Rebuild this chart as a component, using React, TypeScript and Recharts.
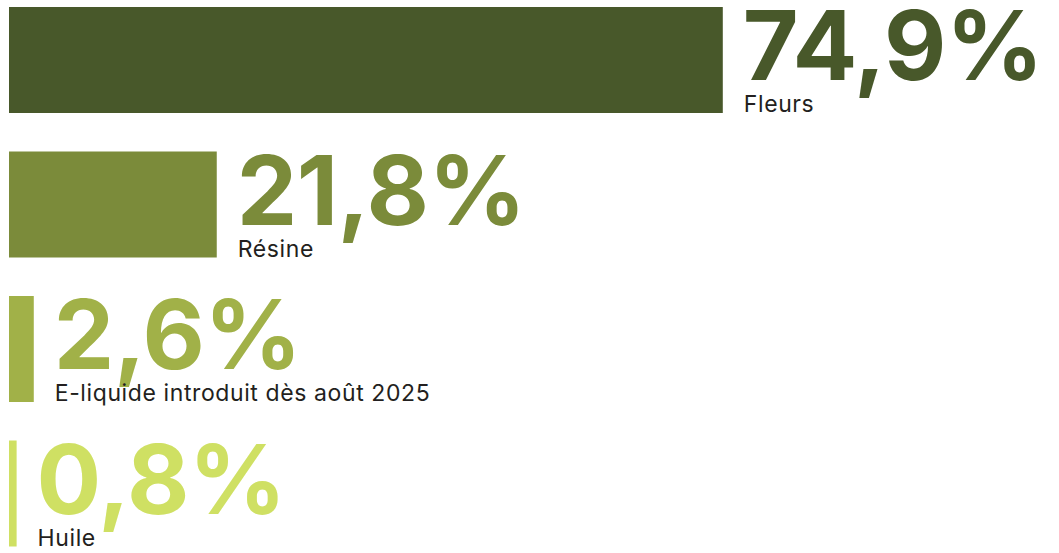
import { BarChart, Bar, XAxis, YAxis, Cell, LabelList } from 'recharts'

const categories = ['Fleurs', 'Résine', 'E-liquide introduit dès août 2025', 'Huile']
const parts = [74.9, 21.8, 2.6, 0.8]
const couleurs = ['#48582a', '#7b8b3a', '#a1b148', '#cfe063']

const data = categories.map((name, i) => ({ name, part: parts[i] }))

const fmt = (v: number) => v.toFixed(1).replace('.', ',') + '%'

function Etiquette(props: any) {
  const { x, y, width, height, index } = props
  const lx = Number(x) + Number(width) + 20
  return (
    <g>
      <text
        x={lx}
        y={Number(y) + 73}
        fill={couleurs[index]}
        fontFamily="Inter"
        fontWeight={700}
        fontSize={96}
        letterSpacing={-0.5}
      >
        {fmt(parts[index])}
      </text>
      <text
        x={lx + 1}
        y={Number(y) + Number(height) - 1}
        fill="#231f20"
        fontFamily="Inter"
        fontSize={23}
        letterSpacing={0.6}
      >
        {categories[index]}
      </text>
    </g>
  )
}

export default function App() {
  return (
    <div style={{ width: 1059, height: 553, background: '#fff' }}>
      <style>{`body{margin:0}`}</style>
      <BarChart
        width={1059}
        height={553}
        data={data}
        layout="vertical"
        margin={{ top: -12, right: 97, bottom: -13, left: 9 }}
        barCategoryGap={38}
      >
        <XAxis type="number" domain={[0, 100]} hide />
        <YAxis type="category" dataKey="name" hide />
        <Bar dataKey="part" isAnimationActive={false} barSize={106}>
          {data.map((_, i) => (
            <Cell key={i} fill={couleurs[i]} />
          ))}
          <LabelList dataKey="part" content={<Etiquette />} />
        </Bar>
      </BarChart>
    </div>
  )
}
